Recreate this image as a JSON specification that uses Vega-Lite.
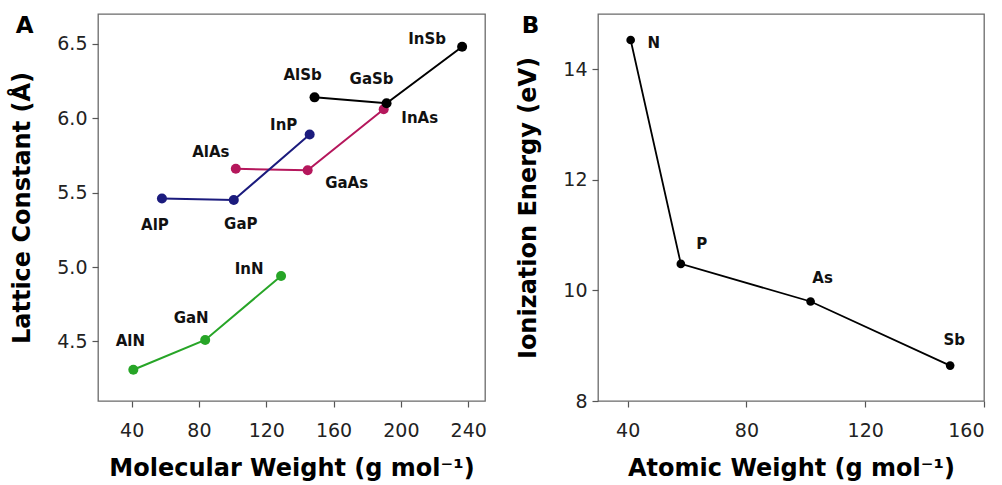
{
  "$schema": "https://vega.github.io/schema/vega-lite/v6.json",
  "padding": {"left": 10, "top": 13, "right": 0, "bottom": 0},
  "background": "white",
  "spacing": 113,
  "bounds": "flush",
  "datasets": {
    "compounds": [
      {"name": "AlN", "series": "N", "mw": 41.0, "a": 4.31},
      {"name": "GaN", "series": "N", "mw": 83.7, "a": 4.51},
      {"name": "InN", "series": "N", "mw": 128.8, "a": 4.94},
      {"name": "AlAs", "series": "As", "mw": 101.9, "a": 5.66},
      {"name": "GaAs", "series": "As", "mw": 144.6, "a": 5.65},
      {"name": "InAs", "series": "As", "mw": 189.8, "a": 6.06},
      {"name": "AlP", "series": "P", "mw": 58.0, "a": 5.46},
      {"name": "GaP", "series": "P", "mw": 100.7, "a": 5.45},
      {"name": "InP", "series": "P", "mw": 145.8, "a": 5.89},
      {"name": "AlSb", "series": "Sb", "mw": 148.7, "a": 6.14},
      {"name": "GaSb", "series": "Sb", "mw": 191.5, "a": 6.10},
      {"name": "InSb", "series": "Sb", "mw": 236.4, "a": 6.48}
    ],
    "elements": [
      {"name": "N", "aw": 41.0, "ie": 14.53},
      {"name": "P", "aw": 57.9, "ie": 10.48},
      {"name": "As", "aw": 101.6, "ie": 9.8},
      {"name": "Sb", "aw": 148.6, "ie": 8.64}
    ]
  },
  "config": {
    "font": "DejaVu Sans",
    "view": {"stroke": "#6a6a6a", "strokeWidth": 1.3},
    "axis": {
      "grid": false,
      "domain": false,
      "tickColor": "#555555",
      "tickWidth": 1.2,
      "tickSize": 6,
      "labelFont": "DejaVu Sans",
      "labelFontSize": 19,
      "labelColor": "#222222",
      "titleFont": "DejaVu Sans",
      "titleFontSize": 24,
      "titleFontWeight": "bold",
      "titleColor": "#000000"
    },
    "axisX": {"labelPadding": 14, "titlePadding": 16},
    "axisY": {"labelPadding": 5, "titlePadding": 22},
    "title": {"font": "DejaVu Sans", "fontSize": 23, "fontWeight": "bold", "anchor": "start", "frame": "bounds", "color": "#000000", "offset": 0},
    "text": {"font": "DejaVu Sans", "fontSize": 15, "fontWeight": "bold", "color": "#111111"}
  },
  "hconcat": [
    {
      "width": 387,
      "height": 387,
      "title": {"text": "A", "dx": 5, "dy": 28},
      "data": {"name": "compounds"},
      "encoding": {
        "x": {"field": "mw", "type": "quantitative", "scale": {"domain": [20, 250], "nice": false, "zero": false}, "axis": {"values": [40, 80, 120, 160, 200, 240], "title": "Molecular Weight (g mol⁻¹)"}},
        "y": {"field": "a", "type": "quantitative", "scale": {"domain": [4.1, 6.7], "nice": false, "zero": false}, "axis": {"values": [4.5, 5.0, 5.5, 6.0, 6.5], "format": ".1f", "title": "Lattice Constant (Å)"}}
      },
      "layer": [
        {
          "mark": {"type": "line", "strokeWidth": 2},
          "encoding": {"color": {"field": "series", "type": "nominal", "scale": {"domain": ["N", "P", "As", "Sb"], "range": ["#27a527", "#1b1b7d", "#b5175c", "#000000"]}, "legend": null}}
        },
        {
          "mark": {"type": "circle", "size": 100, "opacity": 1},
          "encoding": {"color": {"field": "series", "type": "nominal", "scale": {"domain": ["N", "P", "As", "Sb"], "range": ["#27a527", "#1b1b7d", "#b5175c", "#000000"]}, "legend": null}}
        },
        {"transform": [{"filter": "datum.name === 'InSb'"}], "mark": {"type": "text", "dx": -35, "dy": -8}, "encoding": {"text": {"field": "name"}}},
        {"transform": [{"filter": "datum.name === 'AlSb'"}], "mark": {"type": "text", "dx": -12, "dy": -22}, "encoding": {"text": {"field": "name"}}},
        {"transform": [{"filter": "datum.name === 'GaSb'"}], "mark": {"type": "text", "dx": -15, "dy": -24}, "encoding": {"text": {"field": "name"}}},
        {"transform": [{"filter": "datum.name === 'InAs'"}], "mark": {"type": "text", "dx": 36, "dy": 9}, "encoding": {"text": {"field": "name"}}},
        {"transform": [{"filter": "datum.name === 'InP'"}], "mark": {"type": "text", "dx": -26, "dy": -10}, "encoding": {"text": {"field": "name"}}},
        {"transform": [{"filter": "datum.name === 'AlAs'"}], "mark": {"type": "text", "dx": -25, "dy": -17}, "encoding": {"text": {"field": "name"}}},
        {"transform": [{"filter": "datum.name === 'GaAs'"}], "mark": {"type": "text", "dx": 39, "dy": 13}, "encoding": {"text": {"field": "name"}}},
        {"transform": [{"filter": "datum.name === 'AlP'"}], "mark": {"type": "text", "dx": -7, "dy": 26}, "encoding": {"text": {"field": "name"}}},
        {"transform": [{"filter": "datum.name === 'GaP'"}], "mark": {"type": "text", "dx": 7, "dy": 24}, "encoding": {"text": {"field": "name"}}},
        {"transform": [{"filter": "datum.name === 'InN'"}], "mark": {"type": "text", "dx": -32, "dy": -7}, "encoding": {"text": {"field": "name"}}},
        {"transform": [{"filter": "datum.name === 'GaN'"}], "mark": {"type": "text", "dx": -14, "dy": -22}, "encoding": {"text": {"field": "name"}}},
        {"transform": [{"filter": "datum.name === 'AlN'"}], "mark": {"type": "text", "dx": -3, "dy": -29}, "encoding": {"text": {"field": "name"}}}
      ]
    },
    {
      "width": 386,
      "height": 387,
      "title": {"text": "B", "dx": 5, "dy": 28},
      "data": {"name": "elements"},
      "encoding": {
        "x": {"field": "aw", "type": "quantitative", "scale": {"domain": [30, 160], "nice": false, "zero": false}, "axis": {"values": [40, 80, 120, 160], "title": "Atomic Weight (g mol⁻¹)"}},
        "y": {"field": "ie", "type": "quantitative", "scale": {"domain": [8, 15], "nice": false, "zero": false}, "axis": {"values": [8, 10, 12, 14], "title": "Ionization Energy (eV)"}}
      },
      "layer": [
        {"mark": {"type": "line", "strokeWidth": 1.8, "color": "#000000"}},
        {"mark": {"type": "circle", "size": 75, "opacity": 1, "color": "#000000"}},
        {"transform": [{"filter": "datum.name === 'N'"}], "mark": {"type": "text", "dx": 23, "dy": 3}, "encoding": {"text": {"field": "name"}}},
        {"transform": [{"filter": "datum.name === 'P'"}], "mark": {"type": "text", "dx": 21, "dy": -20}, "encoding": {"text": {"field": "name"}}},
        {"transform": [{"filter": "datum.name === 'As'"}], "mark": {"type": "text", "dx": 12, "dy": -23}, "encoding": {"text": {"field": "name"}}},
        {"transform": [{"filter": "datum.name === 'Sb'"}], "mark": {"type": "text", "dx": 4, "dy": -26}, "encoding": {"text": {"field": "name"}}}
      ]
    }
  ]
}
